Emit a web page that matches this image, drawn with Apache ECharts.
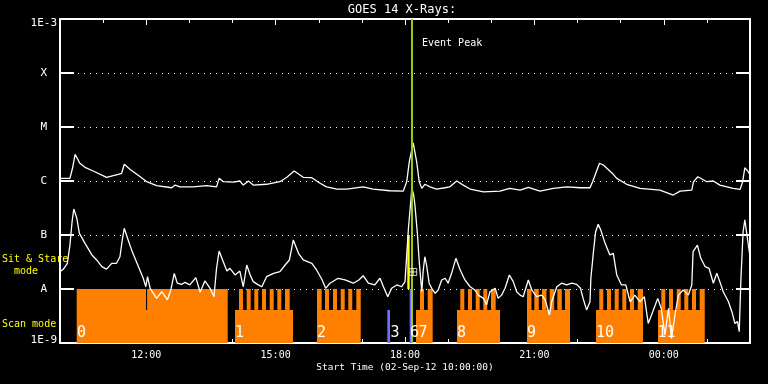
<!DOCTYPE html>
<html><head><meta charset="utf-8">
<script src="https://cdn.jsdelivr.net/npm/echarts@6/dist/echarts.min.js"></script>
<style>html,body{margin:0;padding:0;background:#000;}#c{width:768px;height:384px;}</style>
</head><body><div id="c"></div>
<script>
// ---- DATA (time in hours since 02-Sep-12 00:00; flux in W/m^2) ----
const longT = [10.00,10.23,10.29,10.35,10.46,10.58,10.77,11.08,11.35,11.43,
11.49,11.62,11.86,12.01,12.24,12.59,12.67,12.78,13.09,13.40,
13.63,13.69,13.79,14.02,14.17,14.25,14.37,14.48,14.79,15.10,
15.26,15.43,15.64,15.84,16.03,16.18,16.42,16.65,17.03,17.26,
17.65,17.96,18.04,18.10,18.19,18.27,18.33,18.39,18.46,18.58,
18.73,18.93,19.04,19.20,19.35,19.51,19.82,20.20,20.43,20.67,
20.86,21.13,21.44,21.75,22.06,22.29,22.35,22.51,22.60,22.83,
22.91,23.14,23.45,23.91,24.22,24.38,24.65,24.69,24.79,25.00,
25.15,25.30,25.61,25.77,25.83,25.88,25.96,26.00];
const longF = [1.12e-6,1.12e-6,1.72e-6,3.12e-6,2.13e-6,1.79e-6,1.53e-6,1.17e-6,1.33e-6,1.39e-6,
2.04e-6,1.65e-6,1.20e-6,9.7e-7,8.2e-7,7.5e-7,8.4e-7,7.8e-7,7.8e-7,8.2e-7,
7.8e-7,1.12e-6,9.7e-7,9.5e-7,1.0e-6,8.4e-7,1.0e-6,8.4e-7,8.7e-7,9.7e-7,
1.17e-6,1.53e-6,1.17e-6,1.15e-6,9.1e-7,7.8e-7,7.1e-7,7.1e-7,7.8e-7,7.1e-7,
6.6e-7,6.5e-7,9.7e-7,2.28e-6,5.1e-6,2.28e-6,9.7e-7,7.3e-7,8.7e-7,7.8e-7,
7.1e-7,7.5e-7,7.8e-7,1.0e-6,8.4e-7,7.1e-7,6.3e-7,6.5e-7,7.3e-7,6.8e-7,
7.6e-7,6.5e-7,7.3e-7,7.8e-7,7.5e-7,7.5e-7,9.7e-7,2.13e-6,1.98e-6,1.33e-6,
1.12e-6,8.7e-7,7.3e-7,6.8e-7,5.5e-7,6.5e-7,6.8e-7,9.7e-7,1.20e-6,9.7e-7,
1.0e-6,8.4e-7,7.3e-7,7.0e-7,9.7e-7,1.76e-6,1.49e-6,1.29e-6];

const shortT = [10.00,10.08,10.17,10.23,10.28,10.32,10.39,10.45,10.58,10.74,
10.85,10.97,11.08,11.20,11.31,11.39,11.45,11.49,11.58,11.66,
11.82,11.93,11.99,12.03,12.09,12.24,12.36,12.49,12.57,12.65,
12.72,12.82,12.90,13.01,13.15,13.25,13.36,13.48,13.57,13.63,
13.69,13.77,13.87,13.94,14.06,14.17,14.25,14.33,14.41,14.48,
14.60,14.68,14.79,14.95,15.10,15.22,15.32,15.41,15.53,15.64,
15.84,15.95,16.08,16.16,16.26,16.45,16.61,16.80,16.93,17.03,
17.15,17.30,17.42,17.50,17.60,17.69,17.81,17.92,18.00,18.04,
18.08,18.12,18.16,18.20,18.23,18.29,18.33,18.39,18.42,18.46,
18.50,18.56,18.62,18.70,18.77,18.85,18.93,19.00,19.08,19.18,
19.28,19.39,19.51,19.62,19.70,19.82,19.89,19.97,20.09,20.16,
20.24,20.32,20.42,20.51,20.59,20.67,20.74,20.86,20.94,21.05,
21.17,21.25,21.35,21.40,21.52,21.63,21.75,21.87,21.98,22.07,
22.13,22.21,22.29,22.31,22.37,22.42,22.48,22.54,22.64,22.75,
22.83,22.91,23.02,23.12,23.22,23.33,23.45,23.55,23.64,23.76,
23.86,23.94,24.03,24.11,24.18,24.26,24.34,24.45,24.57,24.65,
24.68,24.78,24.86,24.96,25.05,25.15,25.23,25.30,25.38,25.50,
25.58,25.65,25.71,25.75,25.79,25.84,25.88,25.94,26.00];
const shortF = [2.09e-8,2.34e-8,2.99e-8,6.5e-8,1.76e-7,3.03e-7,2.04e-7,1.07e-7,7.0e-8,4.27e-8,
3.45e-8,2.59e-8,2.34e-8,2.99e-8,2.99e-8,3.96e-8,8.7e-8,1.33e-7,8.1e-8,5.3e-8,
2.59e-8,1.58e-8,1.10e-8,1.69e-8,1.03e-8,6.7e-9,8.9e-9,6.3e-9,9.6e-9,1.95e-8,
1.28e-8,1.22e-8,1.33e-8,1.19e-8,1.62e-8,8.7e-9,1.41e-8,1.03e-8,7.2e-9,2.42e-8,
5.06e-8,3.45e-8,2.15e-8,2.42e-8,1.82e-8,2.15e-8,1.10e-8,2.78e-8,1.82e-8,1.37e-8,
1.19e-8,1.10e-8,1.69e-8,1.95e-8,2.09e-8,2.78e-8,3.45e-8,8.1e-8,4.58e-8,3.45e-8,
2.99e-8,2.25e-8,1.47e-8,1.03e-8,1.28e-8,1.58e-8,1.47e-8,1.28e-8,1.47e-8,1.76e-8,
1.28e-8,1.19e-8,1.58e-8,1.10e-8,7.2e-9,1.03e-8,1.19e-8,1.10e-8,1.37e-8,4.27e-8,
1.33e-7,3.12e-7,7.4e-7,5.5e-7,3.59e-7,1.0e-7,3.2e-8,8.9e-9,2.09e-8,3.96e-8,
2.78e-8,1.28e-8,1.03e-8,8.3e-9,9.6e-9,1.47e-8,1.58e-8,1.28e-8,1.95e-8,3.7e-8,
2.25e-8,1.47e-8,1.10e-8,9.6e-9,7.7e-9,6.7e-9,5.1e-9,8.9e-9,1.03e-8,6.7e-9,
7.7e-9,1.03e-8,1.82e-8,1.37e-8,8.9e-9,7.7e-9,7.2e-9,1.47e-8,9.6e-9,7.2e-9,
7.7e-9,6.3e-9,3.3e-9,5.8e-9,1.10e-8,1.28e-8,1.19e-8,1.28e-8,1.22e-8,1.03e-8,
6.7e-9,4.1e-9,5.8e-9,1.58e-8,4.91e-8,1.15e-7,1.58e-7,1.24e-7,7.0e-8,4.27e-8,
4.58e-8,1.82e-8,1.19e-8,1.19e-8,5.8e-9,7.7e-9,5.8e-9,7.2e-9,2.3e-9,4.1e-9,
6.7e-9,4.4e-9,1.41e-9,4.4e-9,1.22e-9,3.3e-9,7.7e-9,9.6e-9,7.7e-9,1.19e-8,
4.91e-8,6.5e-8,3.7e-8,2.59e-8,2.42e-8,1.28e-8,1.95e-8,1.37e-8,8.9e-9,5.8e-9,
3.8e-9,2.3e-9,2.5e-9,1.62e-9,1.58e-8,1.15e-7,1.90e-7,8.7e-8,3.96e-8];

// Scan-mode blocks (start, end in hours)
const scanBase = [[10.387,13.889],[14.058,15.403],[15.959,16.973],[18.255,18.642],
[19.206,20.203],[20.829,21.826],[22.429,23.519],[23.867,24.950]];
const scanTeeth = [[10.387,11.995],[12.020,13.889],
[14.151,14.243],[14.329,14.422],[14.506,14.598],[14.684,14.777],[14.863,14.955],[15.039,15.132],[15.217,15.326],
[15.959,16.068],[16.145,16.238],[16.330,16.423],[16.509,16.602],[16.685,16.777],[16.871,16.973],
[18.348,18.441],[18.526,18.642],
[19.282,19.375],[19.461,19.554],[19.640,19.732],[19.816,19.908],[19.994,20.103],
[20.829,20.933],[20.998,21.102],[21.177,21.281],[21.355,21.460],[21.532,21.636],[21.710,21.826],
[22.505,22.598],[22.684,22.777],[22.862,22.955],[23.039,23.132],[23.217,23.310],[23.396,23.519],
[23.943,24.036],[24.122,24.215],[24.301,24.394],[24.477,24.570],[24.655,24.748],[24.833,24.950]];
const scanLabelText = ['0','1','2','3','6','7','8','9','10','11'];
const scanLabelT = [10.394,14.058,15.959,17.664,18.116,18.313,19.206,20.829,22.429,23.855];
const blueMarks = [[17.590,17.652,4.1e-9,1e-9],[18.109,18.144,1e-8,1e-9]];
const yellowMarks = [[18.053,18.109,1e-7,1e-8]];
const eventPeakT = 18.162;
const markerPoint = [[18.19,2.07e-8]];
const levelLabels = {'-9':'1E-9','-8':'A','-7':'B','-6':'C','-5':'M','-4':'X','-3':'1E-3'};
const majorHours = [12,15,18,21,24];
const minorHours = [11,13,14,16,17,19,20,22,23,25];
const scanMid = 4.1e-9, levelA = 1e-8, yMin = 1e-9, yMax = 1e-3;

// ---- CHART ----
const F = '"DejaVu Sans Mono", monospace';
const chart = echarts.init(document.getElementById('c'), null, {renderer:'canvas'});
function rectRender(color){
  return function(params, api){
    const a = api.coord([api.value(0), api.value(2)]);
    const b = api.coord([api.value(1), api.value(3)]);
    return {type:'rect', shape:{x:a[0], y:a[1], width:b[0]-a[0], height:b[1]-a[1]}, style:{fill:color}};
  };
}
const hourFmt = v => String(Math.round(v) % 24).padStart(2,'0') + ':00';
function xAx(pos, vals, len, showLine, showLabel){
  return {type:'value', min:10, max:26, position:pos,
    axisLine:{show:showLine, onZero:false, lineStyle:{color:'#fff', width:2}},
    axisTick:{show:true, inside:true, length:len, customValues:vals, lineStyle:{color:'#fff', width:1}},
    axisLabel:{show:showLabel, customValues:vals, formatter:hourFmt, color:'#fff', fontFamily:F, fontSize:10, margin:7},
    splitLine:{show:false}};
}
const orange = '#ff8000';
const option = {
  backgroundColor:'#000', animation:false,
  grid:{left:60, right:18, top:19, bottom:41},
  xAxis:[xAx('bottom', majorHours, 6, true, true), xAx('bottom', minorHours, 4, false, false),
         xAx('top', majorHours, 6, true, false), xAx('top', minorHours, 4, false, false)],
  yAxis:[
    {type:'log', logBase:10, min:yMin, max:yMax, position:'left',
     axisLine:{onZero:false, lineStyle:{color:'#fff', width:2}},
     axisTick:{inside:true, length:14, lineStyle:{color:'#fff', width:2}},
     axisLabel:{color:'#fff', fontFamily:F, fontSize:11, margin:3, showMinLabel:true, showMaxLabel:true,
       formatter: v => {
         const k = String(Math.round(Math.log10(v)));
         if (k === '-3') return '{t|1E-3}';
         if (k === '-9') return '{b|1E-9}';
         return '{l|' + (levelLabels[k] || '') + '}';
       },
       rich:{t:{color:'#fff', fontFamily:F, fontSize:11, padding:[8,0,0,0]},
             b:{color:'#fff', fontFamily:F, fontSize:11, padding:[0,0,6,0]},
             l:{color:'#fff', fontFamily:F, fontSize:11, padding:[0,10,0,0]}}},
     splitLine:{show:true, lineStyle:{color:'#fff', width:1, type:[1,5]}}},
    {type:'log', logBase:10, min:yMin, max:yMax, position:'right',
     axisLine:{onZero:false, lineStyle:{color:'#fff', width:2}},
     axisTick:{inside:true, length:14, lineStyle:{color:'#fff', width:2}},
     axisLabel:{show:false}, splitLine:{show:false}}
  ],
  graphic:[
    {type:'text', x:402, y:10, style:{text:'GOES 14 X-Rays:', fill:'#fff', font:'12px '+F, align:'center', verticalAlign:'middle', textAlign:'center', textVerticalAlign:'middle'}},
    {type:'text', x:422, y:43, style:{text:'Event Peak', fill:'#fff', font:'10px '+F, align:'left', verticalAlign:'middle', textAlign:'left', textVerticalAlign:'middle'}},
    {type:'text', x:2, y:259, style:{text:'Sit & Stare', fill:'#ffff00', font:'10px '+F, align:'left', verticalAlign:'middle', textAlign:'left', textVerticalAlign:'middle'}},
    {type:'text', x:14, y:271, style:{text:'mode', fill:'#ffff00', font:'10px '+F, align:'left', verticalAlign:'middle', textAlign:'left', textVerticalAlign:'middle'}},
    {type:'text', x:2, y:324, style:{text:'Scan mode', fill:'#ffff00', font:'10px '+F, align:'left', verticalAlign:'middle', textAlign:'left', textVerticalAlign:'middle'}},
    {type:'text', x:405, y:368, style:{text:'Start Time (02-Sep-12 10:00:00)', fill:'#fff', font:'9.5px '+F, align:'center', verticalAlign:'middle', textAlign:'center', textVerticalAlign:'middle'}}
  ],
  series:[
    {type:'custom', name:'scanBase', renderItem:rectRender(orange), encode:{x:[0,1], y:[2,3]},
     data: scanBase.map(s => [s[0], s[1], scanMid, yMin]), z:1},
    {type:'custom', name:'scanTeeth', renderItem:rectRender(orange), encode:{x:[0,1], y:[2,3]},
     data: scanTeeth.map(s => [s[0], s[1], levelA, scanMid]), z:1},
    {type:'custom', name:'blue', renderItem:rectRender('#6e6eff'), encode:{x:[0,1], y:[2,3]},
     data: blueMarks, z:2},
    {type:'custom', name:'yellow', renderItem:rectRender('#ffff00'), encode:{x:[0,1], y:[2,3]},
     data: yellowMarks, z:2},
    {type:'line', name:'long', data: longT.map((t,i)=>[t,longF[i]]), symbol:'none',
     lineStyle:{color:'#fff', width:1.3}, z:3},
    {type:'line', name:'short', data: shortT.map((t,i)=>[t,shortF[i]]), symbol:'none',
     lineStyle:{color:'#fff', width:1.3}, z:3},
    {type:'custom', name:'event', encode:{x:0, y:[1,2]}, data:[[eventPeakT, yMax, yMin]], z:4,
     renderItem:(params, api) => {
       const a = api.coord([api.value(0), api.value(1)]);
       const b = api.coord([api.value(0), api.value(2)]);
       return {type:'rect', shape:{x:a[0]-1, y:a[1], width:2, height:b[1]-a[1]}, style:{fill:'#9ccc10'}};
     }},
    {type:'scatter', name:'marker', data: markerPoint, symbol:'path://M0 0H8V8H0Z M4 0V8 M0 4H8', symbolSize:7,
     itemStyle:{color:'rgba(0,0,0,0)', borderColor:'#fff', borderWidth:1}, z:5},
    {type:'custom', name:'scanLabels', encode:{x:0, y:1}, data: scanLabelT.map(t => [t, yMin]), z:6,
     renderItem:(params, api) => {
       const p = api.coord([api.value(0), api.value(1)]);
       return {type:'text', x:p[0], y:p[1]-10, style:{text:scanLabelText[params.dataIndex], fill:'#fff',
         font:'15px '+F, align:'left', verticalAlign:'middle', textAlign:'left', textVerticalAlign:'middle'}};
     }}
  ]
};
chart.setOption(option);
</script>
</body></html>
